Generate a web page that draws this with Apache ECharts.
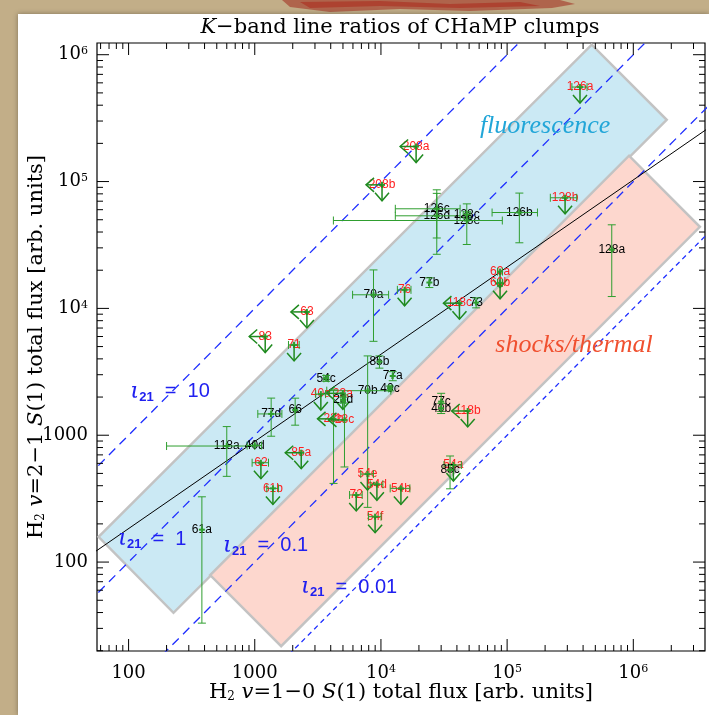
<!DOCTYPE html>
<html><head><meta charset="utf-8">
<script src="https://cdn.jsdelivr.net/npm/echarts@6/dist/echarts.min.js"></script>
<style>html,body{margin:0;padding:0;background:#fff}#c{width:709px;height:715px}</style>
</head><body><div id="c"></div>
<script>
// ---------- axis extents ----------
const X_MIN = 56.2, X_MAX = 3.7e6;
const Y_MIN = 19.9, Y_MAX = 1.237e6;

// ---------- clumps ----------
const names  = ['126a','208a','208b','126c','126d','128c','128e','126b','128b','128a',
                '70a','76','77b','118c','73','63','83','71','60a','60b',
                '85b','54c','77a','70b','40c','40a','23a','23d','77d','66',
                '23b','23c','118a','40d','85a','62','61b','61a','77c','40b',
                '118b','54e','54d','72','54f','54b','54a','85c'];
const xVals  = [3.78e5,1.9e4,1.02e4,2.77e4,2.77e4,4.79e4,4.79e4,1.25e5,2.88e5,6.75e5,
                8730,1.54e4,2.42e4,4.19e4,5.68e4,2590,1210,2050,8.79e4,8.79e4,
                9730,3680,1.24e4,7845,1.18e4,3340,4990,5020,1349,2090,
                4210,5140,600,1000,2335,1119,1393,381,3.0e4,3.0e4,
                4.87e4,7820,9290,6370,8990,1.44e4,3.75e4,3.53e4];
const xErrs  = [5.2e4,0,0,1.47e4,1.47e4,3000,4.37e4,4.9e4,6.8e4,0,
                2770,1900,0,0,0,0,0,200,4000,4000,
                0,150,0,4125,300,300,0,200,292,0,
                0,0,400,130,0,166,148,0,0,0,
                0,900,1070,730,1030,2560,5900,0];
const yVals  = [5.56e5,1.89e5,9.42e4,6.1e4,5.37e4,5.47e4,4.93e4,5.7e4,7.45e4,2.9e4,
                1.28e4,1.4e4,1.6e4,1.1e4,1.11e4,9380,6000,5150,1.95e4,1.59e4,
                3800,2810,2930,2245,2340,2110,2140,1897,1472,1580,
                1346,1321,822,830,728,607,381,180,1840,1633,
                1553,494,410,338,228,381,582,532];
const yErrs  = [0,0,0,2.51e4,2.7e4,3000,1.74e4,2.41e4,0,1.66e4,
                7300,0,1400,0,1000,0,0,0,0,0,
                420,150,240,1975,100,0,0,100,490,380,
                929,759,348,0,0,0,0,147,300,150,
                0,0,0,0,0,0,0,154];
const isRed  = [1,1,1,0,0,0,0,0,1,0, 0,1,0,1,0,1,1,1,1,1, 0,0,0,0,0,1,1,0,0,0, 1,1,0,0,1,1,1,0,0,0, 1,1,1,1,1,1,1,0];
const xLimit = [0,1,1,0,0,0,0,0,0,0, 0,0,0,1,0,1,1,0,0,0, 0,0,0,0,0,0,1,0,0,0, 1,1,0,0,1,0,0,0,0,0, 1,0,0,0,0,0,0,0];
const yLimit = [1,1,1,0,0,0,0,0,1,0, 0,1,0,1,0,1,1,1,1,1, 0,0,0,0,0,1,1,0,0,0, 0,0,0,0,1,1,1,0,0,0, 1,1,1,1,1,1,1,0];

// ---------- regions, model lines ----------
const fluorBox  = [[57.8,158],[4.68e5,1.2e6],[1.84e6,3.07e5],[227,39.8]];
const shockBox  = [[443,78.9],[9.25e5,1.6e5],[3.37e6,4.4e4],[1618,21.7]];
const iotaRatios = [10, 1, 0.1, 0.01];
const fitLineX = [50, 4e6];
const fitLineY = [114, 2.67e5];

// ---------- annotations ----------
const annoTexts = ['fluorescence','shocks/thermal','{i|ι}{s|21}{t|  =  10}','{i|ι}{s|21}{t|  =  1}','{i|ι}{s|21}{t|  =  0.1}','{i|ι}{s|21}{t|  =  0.01}'];
const annoX = [2.0e5, 3.39e5, 103, 82.4, 560, 2322];
const annoY = [2.75e5, 5150, 2193, 152, 134, 63];

const serif = "'DejaVu Serif', serif";
const sans = "'Liberation Sans', Arial, sans-serif";

function logTicks(min, max){
  const out = [];
  for (let k = 0; k <= 7; k++) for (let m = 1; m <= 9; m++) {
    const v = m * Math.pow(10, k);
    if (v >= min && v <= max) out.push({v: v, major: m === 1});
  }
  return out;
}
const xTicks = logTicks(X_MIN, X_MAX);
const yTicks = logTicks(Y_MIN, Y_MAX);

function tickFmt(v){
  const e = Math.log10(v), r = Math.round(e);
  if (Math.abs(e - r) > 1e-6) return '';
  if (r <= 3) return '{b|' + Math.round(v) + '}';
  return '{b|10}{s|' + r + '}';
}
const tickRich = {
  b: {fontFamily: serif, fontSize: 18, color: '#000'},
  s: {fontFamily: serif, fontSize: 11, color: '#000', verticalAlign: 'top'}
};
const nameRich = {
  r: {fontFamily: serif, fontSize: 21, color: '#000'},
  i: {fontFamily: serif, fontSize: 21, color: '#000', fontStyle: 'italic'},
  sub: {fontFamily: serif, fontSize: 12, color: '#000', verticalAlign: 'bottom'}
};

function ln(x1,y1,x2,y2,stroke,w){
  return {type:'line', shape:{x1:x1,y1:y1,x2:x2,y2:y2}, style:{stroke:stroke, lineWidth:w}};
}

const BAR = '#2f9e2f', ARROW = '#1f8a1f';

function renderPoint(params, api){
  const i = api.value(2);
  const x = xVals[i], y = yVals[i];
  const p = api.coord([x, y]);
  const g = [];
  g.push({type:'text', x:p[0], y:p[1], style:{text:names[i], fill: isRed[i] ? '#ff2020' : '#000',
    fontSize:12, fontFamily:sans, align:'center', verticalAlign:'middle'}});
  const cap = 4;
  if (xErrs[i] > 0){
    const loV = x - xErrs[i], hiV = x + xErrs[i];
    const a = api.coord([Math.max(loV, X_MIN), y])[0];
    const b = api.coord([Math.min(hiV, X_MAX), y])[0];
    g.push(ln(a,p[1],b,p[1],BAR,1));
    if (loV > X_MIN) g.push(ln(a,p[1]-cap,a,p[1]+cap,BAR,1));
    if (hiV < X_MAX) g.push(ln(b,p[1]-cap,b,p[1]+cap,BAR,1));
  }
  if (yErrs[i] > 0){
    const loV = y - yErrs[i], hiV = y + yErrs[i];
    const a = api.coord([x, Math.max(loV, Y_MIN)])[1];
    const b = api.coord([x, Math.min(hiV, Y_MAX)])[1];
    g.push(ln(p[0],a,p[0],b,BAR,1));
    if (loV > Y_MIN) g.push(ln(p[0]-cap,a,p[0]+cap,a,BAR,1));
    if (hiV < Y_MAX) g.push(ln(p[0]-cap,b,p[0]+cap,b,BAR,1));
  }
  // marker
  g.push(ln(p[0]-3,p[1],p[0]+3,p[1],BAR,2));
  g.push(ln(p[0],p[1]-3,p[0],p[1]+3,BAR,2));
  const L = 16, H = 8, W = 7;
  if (yLimit[i]){
    g.push(ln(p[0],p[1],p[0],p[1]+L,ARROW,1.5));
    g.push({type:'polyline', shape:{points:[[p[0]-W,p[1]+L-H],[p[0],p[1]+L],[p[0]+W,p[1]+L-H]]}, style:{stroke:ARROW, lineWidth:1.5, fill:null}});
  }
  if (xLimit[i]){
    g.push(ln(p[0],p[1],p[0]-L,p[1],ARROW,1.5));
    g.push({type:'polyline', shape:{points:[[p[0]-L+H,p[1]-W],[p[0]-L,p[1]],[p[0]-L+H,p[1]+W]]}, style:{stroke:ARROW, lineWidth:1.5, fill:null}});
  }
  return {type:'group', children:g};
}

const boxes = [fluorBox, shockBox];
const boxFill = ['#cbe9f4', '#fdd7ce'];
function renderBox(params, api){
  const k = api.value(2);
  const pts = boxes[k].map(function(d){ return api.coord(d); });
  return {type:'polygon', shape:{points:pts}, style:{fill:boxFill[k], stroke:'#c3c3c3', lineWidth:2.5}};
}

const annoStyles = [
  {fill:'#22a6d8', font:"italic 26px 'Liberation Serif', serif", align:'center'},
  {fill:'#f0502f', font:"italic 26px 'Liberation Serif', serif", align:'center'}
];
const iotaRich = {
  i: {fontFamily: "'DejaVu Serif', serif", fontStyle:'italic', fontSize: 23, fill:'#2020f0'},
  s: {fontFamily: sans, fontSize: 13, fontWeight:'bold', fill:'#2020f0', verticalAlign:'bottom'},
  t: {fontFamily: sans, fontSize: 20, fill:'#2020f0'}
};
function renderAnno(params, api){
  const k = api.value(2);
  const p = api.coord([annoX[k], annoY[k]]);
  if (k < 2){
    return {type:'text', x:p[0], y:p[1], style:Object.assign({text:annoTexts[k], verticalAlign:'middle'}, annoStyles[k])};
  }
  return {type:'text', x:p[0], y:p[1], style:{text:annoTexts[k], rich:iotaRich, align:'left', verticalAlign:'middle'}};
}

function renderTicks(params, api){
  const cs = params.coordSys;
  const T = cs.y, B = cs.y + cs.height, Lx = cs.x, R = cs.x + cs.width;
  const g = [];
  xTicks.forEach(function(t){
    const px = api.coord([t.v, 1000])[0];
    const len = t.major ? 12 : 6;
    g.push(ln(px,B,px,B-len,'#000',1));
    g.push(ln(px,T,px,T+len,'#000',1));
  });
  yTicks.forEach(function(t){
    const py = api.coord([1000, t.v])[1];
    const len = t.major ? 12 : 6;
    g.push(ln(Lx,py,Lx+len,py,'#000',1));
    g.push(ln(R,py,R-len,py,'#000',1));
  });
  return {type:'group', children:g};
}

const series = [];
series.push({type:'custom', name:'boxes', z:1, renderItem:renderBox, data:[[1000,1000,0],[1000,1000,1]], silent:true});
iotaRatios.forEach(function(r){
  series.push({type:'line', z:2, showSymbol:false, silent:true, clip:true,
    lineStyle:{color:'#1f2fff', width:1.3, type: r === 0.01 ? [5,4] : [9,6]},
    data:[[1, r*1],[1e8, r*1e8]]});
});
series.push({type:'line', z:2, showSymbol:false, silent:true, clip:true,
  lineStyle:{color:'#000', width:1}, data:[[fitLineX[0],fitLineY[0]],[fitLineX[1],fitLineY[1]]]});
series.push({type:'custom', z:3, renderItem:renderAnno, silent:true, data:annoTexts.map(function(t,k){return [annoX[k],annoY[k],k];})});
series.push({type:'custom', z:5, renderItem:renderPoint, silent:true, clip:true, data:names.map(function(n,i){return [xVals[i],yVals[i],i];})});
series.push({type:'custom', z:6, renderItem:renderTicks, silent:true, data:[[1000,1000,0]]});

const chart = echarts.init(document.getElementById('c'), null, {renderer:'canvas', width:709, height:715});
chart.setOption({
  animation:false,
  backgroundColor:'#c2ae88',
  graphic:[
    {type:'polygon', z:-10, shape:{points:[[282,0],[560,0],[575,4],[552,8],[470,11],[400,9],[330,12],[290,7]]}, style:{fill:'rgba(160,40,28,0.55)'}},
    {type:'polygon', z:-10, shape:{points:[[300,2],[380,1],[450,4],[520,2],[540,6],[460,8],[380,6],[310,8]]}, style:{fill:'rgba(170,25,15,0.45)'}},
    {type:'rect', z:-9, shape:{x:18,y:14,width:691,height:701}, style:{fill:'#fff', shadowBlur:5, shadowColor:'rgba(0,0,0,0.35)'}},
    {type:'text', z:100, x:400, y:28, style:{text:'{i|K}{r|−band line ratios of CHaMP clumps}', align:'center', verticalAlign:'middle',
      rich:{i:{fontFamily:serif, fontSize:21, fontStyle:'italic', fill:'#000'}, r:{fontFamily:serif, fontSize:21, fill:'#000'}}}}
  ],
  grid:{left:97, right:4, top:43, bottom:64, show:true, borderColor:'#000', borderWidth:1.2, backgroundColor:'transparent'},
  xAxis:{type:'log', logBase:10, min:X_MIN, max:X_MAX,
    axisLine:{show:false}, axisTick:{show:false}, splitLine:{show:false}, minorTick:{show:false},
    axisLabel:{formatter:tickFmt, rich:tickRich, margin:13, showMinLabel:false, showMaxLabel:false},
    name:'{r|H}{sub|2}{r| }{i|v}{r|=1−0 }{i|S}{r|(1) total flux [arb. units]}', nameLocation:'middle', nameGap:31, nameMoveOverlap:false,
    nameTextStyle:{rich:nameRich}},
  yAxis:{type:'log', logBase:10, min:Y_MIN, max:Y_MAX,
    axisLine:{show:false}, axisTick:{show:false}, splitLine:{show:false}, minorTick:{show:false},
    axisLabel:{formatter:tickFmt, rich:tickRich, margin:9, showMinLabel:false, showMaxLabel:false},
    name:'{r|H}{sub|2}{r| }{i|v}{r|=2−1 }{i|S}{r|(1) total flux [arb. units]}', nameLocation:'middle', nameGap:50, nameMoveOverlap:false,
    nameTextStyle:{rich:nameRich}},
  series:series
});
</script></body></html>
